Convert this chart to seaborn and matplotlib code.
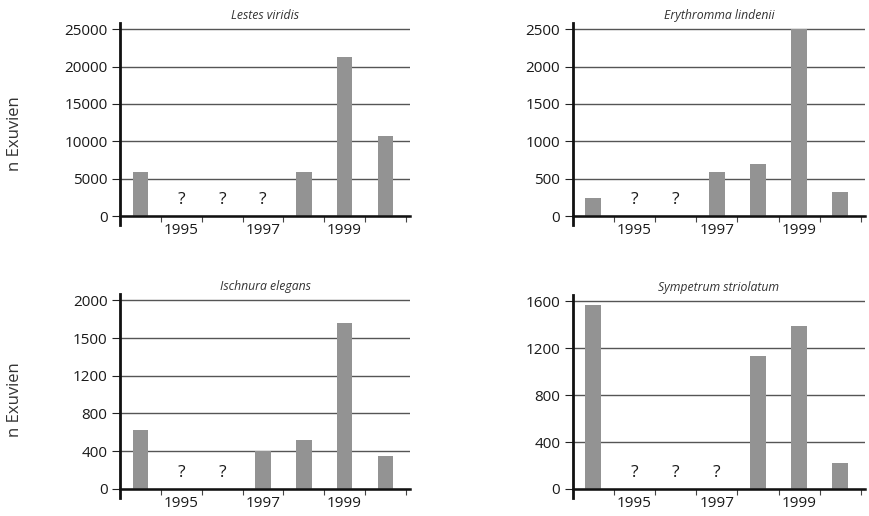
import numpy as np
import pandas as pd
import matplotlib
matplotlib.use("Agg")
import matplotlib.pyplot as plt
import seaborn as sns

# Exuvien counts per year; NaN marks years without survey ("?")
years = [1994, 1995, 1996, 1997, 1998, 1999, 2000]
year_labels = ["1995", "1997", "1999"]

lestes_viridis = [5900, np.nan, np.nan, np.nan, 5900, 21300, 10700]
erythromma_lindenii = [240, np.nan, np.nan, 590, 700, 2500, 320]
ischnura_elegans = [620, np.nan, np.nan, 405, 515, 1760, 345]
sympetrum_striolatum = [1565, np.nan, np.nan, np.nan, 1130, 1385, 218]

species = ["Lestes viridis", "Erythromma lindenii",
           "Ischnura elegans", "Sympetrum striolatum"]
counts = [lestes_viridis, erythromma_lindenii, ischnura_elegans, sympetrum_striolatum]

y_ticks = [
    [0, 5000, 10000, 15000, 20000, 25000],
    [0, 500, 1000, 1500, 2000, 2500],
    [0, 400, 800, 1200, 1600, 2000],
    [0, 400, 800, 1200, 1600],
]
y_tick_labels = [
    ["0", "5000", "10000", "15000", "20000", "25000"],
    ["0", "500", "1000", "1500", "2000", "2500"],
    ["0", "400", "800", "1200", "1500", "2000"],
    ["0", "400", "800", "1200", "1600"],
]
y_label = "n Exuvien"

sns.set_theme(style="white")
plt.rcParams["font.family"] = ["Open Sans", "DejaVu Sans"]

W, H = 869, 516
fig = plt.figure(figsize=(W / 100, H / 100), dpi=100)

# panel boxes in pixels: left spine x, right end x, top px, bottom px
boxes = [
    (120, 410, 22.5, 225),
    (572.7, 865, 22.5, 225),
    (120, 410, 293.5, 498),
    (572.7, 865, 294.5, 498),
]

bar_color = "#939393"
grid_color = "#555555"

axes = []
for (x0, x1, yt, yb) in boxes:
    ax = fig.add_axes([x0 / W, 1 - yb / H, (x1 - x0) / W, (yb - yt) / H])
    axes.append(ax)

for ax, name, vals, ticks, tlabels in zip(axes, species, counts, y_ticks, y_tick_labels):
    df = pd.DataFrame({"Jahr": years, "n": vals})
    sns.barplot(data=df, x="Jahr", y="n", order=years, color=bar_color,
                saturation=1, width=0.38, errorbar=None, linewidth=0,
                ax=ax, zorder=3)

    top = ticks[-1]
    ax.set_ylim(-0.048 * top, 1.036 * top)
    ax.set_xlim(-0.5, 6.6)

    ax.set_yticks(ticks)
    ax.set_yticklabels(tlabels)
    ax.yaxis.grid(True, color=grid_color, linewidth=1.0, zorder=1)
    ax.xaxis.grid(False)
    ax.set_axisbelow(True)

    # tick marks on slot boundaries, year labels centred on slots
    ax.set_xticks(np.arange(len(years)) + 0.5)
    ax.set_xticklabels([""] * len(years))
    ax.set_xticks([years.index(int(y)) for y in year_labels], minor=True)
    ax.set_xticklabels(year_labels, minor=True)

    ax.tick_params(axis="x", which="major", direction="out", length=4,
                   width=0.8, color="#444444", bottom=True)
    ax.tick_params(axis="x", which="minor", length=0, pad=5,
                   labelsize=11, labelcolor="#1a1a1a", bottom=True)
    ax.tick_params(axis="y", direction="out", length=6, width=0.8,
                   color="#222222", pad=3, labelsize=11, labelcolor="#1a1a1a", left=True)

    for s in ("top", "right"):
        ax.spines[s].set_visible(False)
    ax.spines["left"].set_linewidth(2.0)
    ax.spines["left"].set_color("#111111")
    ax.spines["bottom"].set_linewidth(1.8)
    ax.spines["bottom"].set_color("#111111")
    ax.spines["bottom"].set_position(("data", 0))
    ax.spines["left"].set_zorder(5)
    ax.spines["bottom"].set_zorder(5)

    ax.set_xlabel("")
    ax.set_ylabel("")
    ax.set_title(name, fontsize=8.8, fontstyle="italic", color="#333333", pad=2.5)

    # missing years
    for i, v in enumerate(vals):
        if np.isnan(v):
            ax.annotate("?", xy=(i, 0), xytext=(0, 6), textcoords="offset points",
                        ha="center", va="bottom", fontsize=12.5, color="#1a1a1a")

for yc in (134, 400):
    fig.text(15 / W, 1 - yc / H, y_label, rotation=90, ha="center", va="center",
             fontsize=12, color="#333333")

fig.savefig("out.png", dpi=100, facecolor="white")
